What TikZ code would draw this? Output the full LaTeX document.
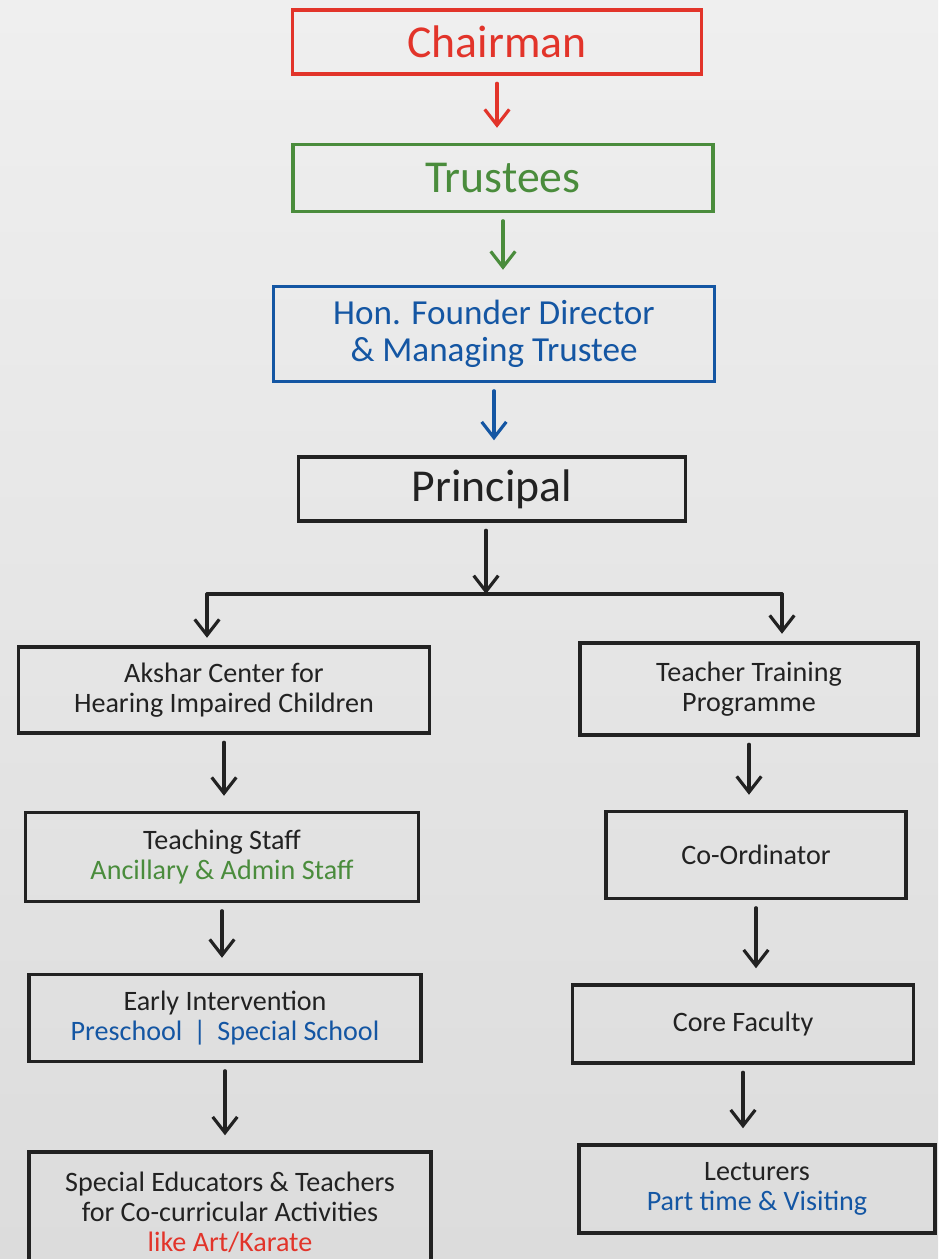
\documentclass[tikz,border=0pt]{standalone}
\usepackage{fontspec}
\setmainfont{Carlito}
\usetikzlibrary{arrows.meta, positioning}
\definecolor{chairred}{HTML}{E2342A}
\definecolor{trustgreen}{HTML}{4A8C3C}
\definecolor{founderblue}{HTML}{1456A3}
\definecolor{inkblack}{HTML}{222222}
\definecolor{bgtop}{HTML}{EFEFEF}
\definecolor{bgbottom}{HTML}{DCDCDC}
\tikzset{
  box/.style={rectangle, draw=inkblack, line width=2pt, text=inkblack, align=center, inner sep=2pt, font=\fontsize{16}{17}\selectfont}, % every box of the chart
  bigbox/.style={box, font=\fontsize{26}{28}\selectfont}, % the top boxes have larger text
  arr/.style={draw=inkblack, line width=1.8pt, line cap=round, -{Straight Barb[length=9pt,width=14pt]}, shorten <=0.15cm, shorten >=0.3cm}, % downward arrows
  bar/.style={draw=inkblack, line width=1.8pt, line cap=round}
}

\begin{document}
\begin{tikzpicture}[x=0.02cm, y=-0.02cm] % one unit is one pixel of the sketch

    % paper
    \shade[top color=bgtop, bottom color=bgbottom] (0,0) rectangle (938,1259);
    \useasboundingbox (0,0) rectangle (938,1259);

    \node[bigbox, draw=chairred, text=chairred, minimum width=8.18cm, minimum height=1.28cm] (chairman) at (497,42) {Chairman};
    \node[bigbox, draw=trustgreen, text=trustgreen, minimum width=8.4cm, minimum height=1.34cm] (trustees) at (503,178) {Trustees};
    \node[box, draw=founderblue, text=founderblue, minimum width=8.82cm, minimum height=1.9cm, font=\fontsize{20}{21}\selectfont] (founder) at (494,334) {Hon. Founder Director\\\& Managing Trustee};
    \node[bigbox, minimum width=7.74cm, minimum height=1.28cm] (principal) at (492,489) {Principal};

    % left branch
    \node[box, minimum width=8.22cm, minimum height=1.72cm] (akshar) at (224,690) {Akshar Center for\\Hearing Impaired Children};
    \node[box, minimum width=7.86cm, minimum height=1.78cm] (teaching) at (222,857) {Teaching Staff\\\textcolor{trustgreen}{Ancillary \& Admin Staff}};
    \node[box, minimum width=7.84cm, minimum height=1.74cm] (early) at (225,1018) {Early Intervention\\\textcolor{founderblue}{Preschool \,|\, Special School}};
    \node[box, minimum width=8.04cm, minimum height=2.4cm] (special) at (230,1212) {Special Educators \& Teachers\\for Co-curricular Activities\\\textcolor{chairred}{like Art/Karate}};

    % right branch
    \node[box, minimum width=6.76cm, minimum height=1.84cm] (training) at (749,689) {Teacher Training\\Programme};
    \node[box, minimum width=6.0cm, minimum height=1.74cm] (coordinator) at (756,855) {Co-Ordinator};
    \node[box, minimum width=6.82cm, minimum height=1.56cm] (core) at (743,1024) {Core Faculty};
    \node[box, minimum width=7.12cm, minimum height=1.76cm] (lecturers) at (757,1189) {Lecturers\\\textcolor{founderblue}{Part time \& Visiting}};

    \coordinate (split) at (486,594);
    \coordinate (left_end) at (207,594);
    \coordinate (right_end) at (782,594);

    \draw[arr, draw=chairred] (chairman.south) -- (chairman.south |- trustees.north);
    \draw[arr, draw=trustgreen] (trustees.south) -- (trustees.south |- founder.north);
    \draw[arr, draw=founderblue] (founder.south) -- (founder.south |- principal.north);
    \draw[arr, shorten >=0pt] (principal.south -| split) -- (split);
    \draw[bar] (left_end) -- (right_end);
    \draw[arr, shorten <=0pt, shorten >=0.15cm] (left_end) -- (left_end |- akshar.north);
    \draw[arr, shorten <=0pt, shorten >=0.15cm] (right_end) -- (right_end |- training.north);

    \draw[arr] (akshar.south) -- (akshar.south |- teaching.north);
    \draw[arr] (teaching.south) -- (teaching.south |- early.north);
    \draw[arr] (early.south) -- (early.south |- special.north);

    \draw[arr] (training.south) -- (training.south |- coordinator.north);
    \draw[arr] (coordinator.south) -- (coordinator.south |- core.north);
    \draw[arr] (core.south) -- (core.south |- lecturers.north);

\end{tikzpicture}
\end{document}
